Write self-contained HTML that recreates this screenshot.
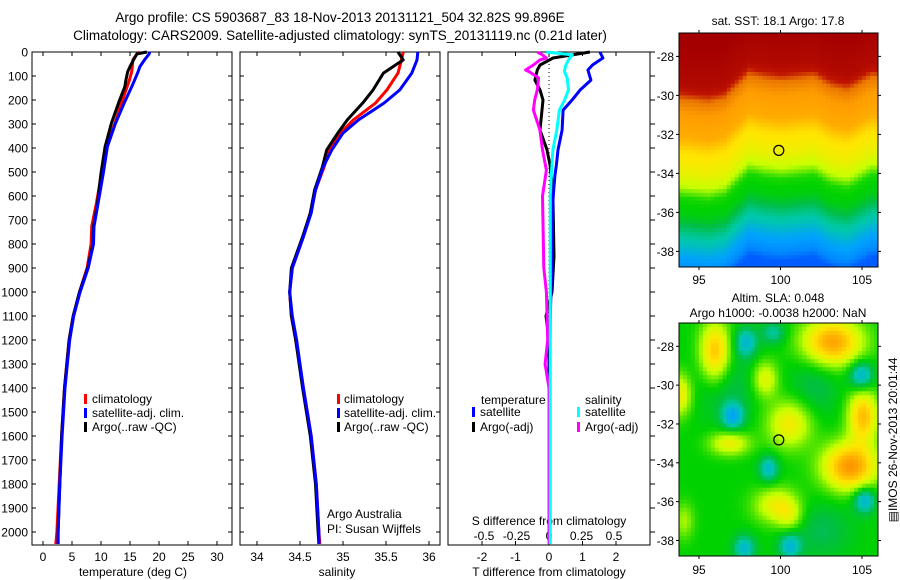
<!DOCTYPE html>
<html><head><meta charset="utf-8"><style>
body{margin:0;background:#fff}
svg{display:block;font-family:"Liberation Sans",sans-serif}
</style></head><body>
<svg id="c" width="900" height="580" viewBox="0 0 900 580"></svg>
<script>
// ---------- data ----------
const tDepth=[0,8,33,61,82,117,145,207,297,394,505,630,727,800,900,1000,1100,1200,1400,1600,1800,2000,2050];
const tArgo=[17.9,16.2,15.6,15.0,14.6,14.3,14.1,13.1,11.8,10.7,10.0,9.4,8.7,8.6,7.7,6.3,5.2,4.5,3.7,3.2,2.9,2.6,2.6];
const tClim=[16.7,16.2,15.5,15.4,15.3,14.9,14.5,13.6,12.4,11.0,10.1,9.2,8.4,8.3,7.6,6.3,5.2,4.5,3.7,3.2,2.8,2.4,2.2];
const tSat=[18.4,18.3,17.5,16.7,16.4,15.8,15.3,14.1,12.5,11.1,10.4,9.5,8.8,8.7,7.8,6.4,5.3,4.6,3.8,3.3,2.9,2.6,2.6];
const sDepth=[0,33,88,158,212,283,338,408,479,575,671,770,900,1000,1100,1200,1400,1600,1800,2000,2050];
const sArgo=[35.64,35.7,35.47,35.35,35.23,35.05,34.94,34.81,34.76,34.67,34.62,34.53,34.4,34.38,34.4,34.45,34.53,34.62,34.68,34.71,34.72];
const sClim=[35.7,35.68,35.64,35.51,35.38,35.12,34.97,34.84,34.78,34.68,34.62,34.54,34.41,34.38,34.4,34.45,34.54,34.63,34.69,34.72,34.73];
const sSat=[35.87,35.86,35.8,35.66,35.48,35.18,35.0,34.87,34.77,34.68,34.63,34.54,34.41,34.38,34.41,34.46,34.54,34.63,34.69,34.72,34.72];
const dtDepth=[0,25,54,75,117,158,200,242,325,408,470,512,575,617,850,1000,1100,1200,1500,2000,2050];
const dtSat=[1.52,1.61,1.3,1.16,1.25,0.93,0.69,0.42,0.39,0.27,0.22,0.18,0.14,0.12,0.09,0.06,0.04,0.03,0.02,0.02,0.02];
const dtArgo=[1.22,0.12,-0.27,-0.35,-0.42,-0.27,-0.18,-0.21,-0.27,-0.06,0.03,0.06,0.12,0.12,0.15,0.09,-0.09,0.0,0.0,0.0,0.0];
const dsDepth=[0,12,25,33,54,75,83,108,158,200,242,325,408,492,600,900,1000,1200,1300,1400,2000,2050];
const dsArgo=[-0.09,-0.05,-0.02,-0.07,-0.12,-0.18,-0.15,-0.08,-0.09,-0.11,-0.12,-0.07,-0.05,-0.02,-0.05,-0.04,-0.02,-0.01,-0.03,0,0,0];
const dsSat=[-0.02,0.18,0.16,0.15,0.13,0.12,0.12,0.14,0.15,0.12,0.08,0.06,0.03,0.02,0.01,0.01,0.01,0.01,0.01,0.01,0.01,0.01];
const depthTicks=[0,100,200,300,400,500,600,700,800,900,1000,1100,1200,1300,1400,1500,1600,1700,1800,1900,2000];
const tempTicks=[0,5,10,15,20,25,30];
const salTicks=[34,34.5,35,35.5,36];
const salTickLabels=["34","34.5","35","35.5","36"];
const dtTicks=[-2,-1,0,1,2];
const dsTicks=[-0.5,-0.25,0,0.25,0.5];
const dsTickLabels=["-0.5","-0.25","0","0.25","0.5"];
// SST map: temperature along latitude, with front shift by longitude
const sstLat=[-26.8,-28.8,-29.6,-30.3,-31.5,-32.3,-33.3,-34,-34.6,-35.5,-36.3,-36.9,-37.6,-38.4,-38.8];
const sstVal=[22.2,21.8,21.0,20.5,20.3,19.7,19.4,19.0,18.3,18.1,17.6,17.3,16.7,16.3,15.8];
const sstShiftLon=[94,95,96,97,97.6,98.5,99.5,100.5,101.5,102.5,103.5,104.5,105,106];
const sstShift=[0.6,0.7,0.8,0.6,0.1,-0.6,-0.4,-0.3,-0.4,-0.5,0,0.2,0,-0.5];
// SLA blobs
const slaLon=[96.4,94.2,103.6,99.5,101.0,97.3,105.5,104.7,100.2,101,94.5,97.5,98.3,105.4,99.7,105.6,98.2,101,100,97,102.5,103];
const slaLat=[-28.3,-30.5,-27.8,-29.7,-32.0,-33.0,-31.6,-34.2,-36.2,-36.8,-37,-31.6,-27.8,-29.5,-34.3,-35.9,-38.4,-38.3,-27.3,-30,-30,-37.5];
const slaAmp=[0.17,0.12,0.2,0.1,0.12,0.11,0.17,0.21,0.11,0.06,0.06,-0.12,-0.1,-0.12,-0.1,-0.12,-0.1,-0.1,-0.07,-0.04,-0.04,-0.04];
const slaSx=[0.6,0.5,1.2,0.5,0.9,0.8,0.6,1.1,0.9,0.5,0.4,0.45,0.45,0.5,0.4,0.45,0.45,0.45,0.5,1.2,1.0,1.2];
const slaSy=[1.0,0.7,0.8,0.6,0.8,0.4,0.9,0.8,0.6,0.5,0.6,0.45,0.5,0.5,0.45,0.45,0.45,0.45,0.4,1.2,1.2,1.0];

// ---------- helpers ----------
const NS="http://www.w3.org/2000/svg";
const svg=document.getElementById('c');
function mk(tag,attrs,parent){const e=document.createElementNS(NS,tag);for(const k in attrs)e.setAttribute(k,attrs[k]);(parent||svg).appendChild(e);return e;}
function txt(x,y,s,anchor,size,parent){const e=mk('text',{x:x,y:y,'text-anchor':anchor||'start','font-size':size||12,fill:'#000'},parent);e.textContent=s;return e;}
const Y0=52,DY=0.24;
const yD=d=>Y0+d*DY;
const xT=v=>43+v*5.8;
const xS=v=>257+(v-34)*86;
const xDT=v=>549+v*33.5;
const xDS=v=>549+v*130;
function line(xs,ys,fx,color,w,name){
  let p='';for(let i=0;i<xs.length;i++)p+=(i?'L':'M')+fx(xs[i]).toFixed(1)+','+yD(ys[i]).toFixed(1);
  const e=mk('path',{d:p,fill:'none',stroke:color,'stroke-width':w||3,'stroke-linejoin':'round'});
  
  
}
function frame(x1,x2,y1,y2,name){
  const e=mk('rect',{x:x1,y:y1,width:x2-x1,height:y2-y1,fill:'none',stroke:'#000','stroke-width':1});
  
  
}
const PB=545;
let t=txt(340,22,"Argo profile: CS 5903687_83 18-Nov-2013 20131121_504 32.82S 99.896E",'middle',13.5);

t=txt(340,40,"Climatology: CARS2009. Satellite-adjusted climatology: synTS_20131119.nc (0.21d later)",'middle',13.5);


// ---------- panel 1 ----------
frame(32,232,Y0,PB,'temperature-panel-frame');
depthTicks.forEach(d=>{mk('line',{x1:32,x2:36,y1:yD(d),y2:yD(d),stroke:'#000'});mk('line',{x1:228,x2:232,y1:yD(d),y2:yD(d),stroke:'#000'});
  const l=txt(28,yD(d)+4.5,String(d),'end',12);});
tempTicks.forEach(v=>{mk('line',{x1:xT(v),x2:xT(v),y1:Y0,y2:Y0+4,stroke:'#000'});mk('line',{x1:xT(v),x2:xT(v),y1:PB-4,y2:PB,stroke:'#000'});
  const l=txt(xT(v),561,String(v),'middle',12);});
t=txt(133,576,"temperature (deg C)",'middle',12);
line(tClim,tDepth,xT,'#f00',3,'temp-climatology-line');
line(tArgo,tDepth,xT,'#000',3,'temp-argo-line');
line(tSat,tDepth,xT,'#00f',3,'temp-satellite-line');
[['#f00','climatology'],['#00f','satellite-adj. clim.'],['#000','Argo(..raw -QC)']].forEach((r,i)=>{
  mk('rect',{x:84,y:394+i*14,width:3,height:10,fill:r[0]});
  const l=txt(92,403+i*14,r[1],'start',12);});

// ---------- panel 2 ----------
frame(240,440,Y0,PB,'salinity-panel-frame');
depthTicks.forEach(d=>{mk('line',{x1:240,x2:244,y1:yD(d),y2:yD(d),stroke:'#000'});mk('line',{x1:436,x2:440,y1:yD(d),y2:yD(d),stroke:'#000'});});
salTicks.forEach((v,i)=>{mk('line',{x1:xS(v),x2:xS(v),y1:Y0,y2:Y0+4,stroke:'#000'});mk('line',{x1:xS(v),x2:xS(v),y1:PB-4,y2:PB,stroke:'#000'});
  const l=txt(xS(v),561,salTickLabels[i],'middle',12);});
t=txt(337,576,"salinity",'middle',12);
line(sClim,sDepth,xS,'#f00',3,'sal-climatology-line');
line(sArgo,sDepth,xS,'#000',3,'sal-argo-line');
line(sSat,sDepth,xS,'#00f',3,'sal-satellite-line');
[['#f00','climatology'],['#00f','satellite-adj. clim.'],['#000','Argo(..raw -QC)']].forEach((r,i)=>{
  mk('rect',{x:337,y:394+i*14,width:3,height:10,fill:r[0]});
  const l=txt(344,403+i*14,r[1],'start',12);});
t=txt(327,518,"Argo Australia",'start',12);
t=txt(327,533,"PI: Susan Wijffels",'start',12);

// ---------- panel 3 ----------
frame(448,650,Y0,PB,'difference-panel-frame');
depthTicks.forEach(d=>{mk('line',{x1:650,x2:655,y1:yD(d),y2:yD(d),stroke:'#000'});});
dtTicks.forEach(v=>{mk('line',{x1:xDT(v),x2:xDT(v),y1:Y0,y2:Y0+4,stroke:'#000'});mk('line',{x1:xDT(v),x2:xDT(v),y1:PB-4,y2:PB,stroke:'#000'});
  const l=txt(xDT(v),561,String(v),'middle',12);});
dsTicks.forEach((v,i)=>{const l=txt(xDS(v),540,dsTickLabels[i],'middle',12);});
t=txt(549,525,"S difference from climatology",'middle',12);
t=txt(549,576,"T difference from climatology",'middle',12);
mk('line',{x1:xDT(0),x2:xDT(0),y1:Y0,y2:PB,stroke:'#000','stroke-dasharray':'1,3'});
line(dtArgo,dtDepth,xDT,'#000',3,'tdiff-argo-line');
line(dtSat,dtDepth,xDT,'#00f',3,'tdiff-satellite-line');
line(dsArgo,dsDepth,xDS,'#f0f',3,'sdiff-argo-line');
line(dsSat,dsDepth,xDS,'#0ff',3,'sdiff-satellite-line');
t=txt(481,404,"temperature",'start',12);
t=txt(585,404,"salinity",'start',12);
[['#00f','satellite',472],['#000','Argo(-adj)',472],['#0ff','satellite',577],['#f0f','Argo(-adj)',577]].forEach((r,i)=>{
  const row=i%2;
  mk('rect',{x:r[2],y:407+row*15,width:3,height:10,fill:r[0]});
  const l=txt(r[2]+8,416+row*15,r[1],'start',12);});

// ---------- maps ----------
function cmap(v){
  const st=[[0,0,0,150],[0.15,0,60,255],[0.3,0,160,255],[0.4,0,200,170],[0.45,0,190,70],[0.5,0,210,0],[0.6,200,255,0],[0.68,255,230,0],[0.78,255,160,0],[0.85,235,120,0],[0.9,190,20,0],[1,165,0,0]];
  v=Math.max(0,Math.min(1,v));
  for(let i=1;i<st.length;i++){if(v<=st[i][0]){const a=st[i-1],b=st[i],f=(v-a[0])/(b[0]-a[0]);
    return 'rgb('+[1,2,3].map(k=>Math.round(a[k]+f*(b[k]-a[k]))).join(',')+')';}}
  return 'rgb(165,0,0)';
}
function interp(xs,ys,x){ // xs descending
  if(x>=xs[0])return ys[0];
  for(let i=1;i<xs.length;i++){if(x>=xs[i]){const f=(x-xs[i-1])/(xs[i]-xs[i-1]);return ys[i-1]+f*(ys[i]-ys[i-1]);}}
  return ys[ys.length-1];
}
function interpAsc(xs,ys,x){
  if(x<=xs[0])return ys[0];
  for(let i=1;i<xs.length;i++){if(x<=xs[i]){const f=(x-xs[i-1])/(xs[i]-xs[i-1]);return ys[i-1]+f*(ys[i]-ys[i-1]);}}
  return ys[ys.length-1];
}
function mapAxes(y1,y2,latTop,latBot,name){
  const xL=v=>699+(v-95)*16.3;
  const g=mk('g',{});
  
  
  return {g,xL,yL:v=>y1+(latTop-v)*(y2-y1)/(latTop-latBot)};
}
function decorate(m,y1,y2,lonLabelY,prefix){
  frame(679,878,y1,y2,prefix+'-map-frame');
  [95,100,105].forEach(v=>{mk('line',{x1:m.xL(v),x2:m.xL(v),y1:y1,y2:y1-3,stroke:'#000'});mk('line',{x1:m.xL(v),x2:m.xL(v),y1:y2,y2:y2+3,stroke:'#000'});
    const l=txt(m.xL(v),lonLabelY,String(v),'middle',12);});
  [-28,-30,-32,-34,-36,-38].forEach(v=>{mk('line',{x1:679,x2:676,y1:m.yL(v),y2:m.yL(v),stroke:'#000'});mk('line',{x1:878,x2:881,y1:m.yL(v),y2:m.yL(v),stroke:'#000'});
    const l=txt(674,m.yL(v)+4.5,String(v),'end',12);});
  const c=mk('circle',{cx:m.xL(99.896),cy:m.yL(-32.82),r:5,fill:'none',stroke:'#000','stroke-width':1.2});
  
}
// SST map
(function(){
  const y1=33,y2=267,latTop=-26.8,latBot=-38.8;
  const m=mapAxes(y1,y2,latTop,latBot,'sst-map');
  const ny=60,nx=50;
  const cw=(878-679)/nx,ch=(y2-y1)/ny;
  for(let j=0;j<ny;j++)for(let i=0;i<nx;i++){
    const lat=latTop-(j+0.5)*(latTop-latBot)/ny;
    const lon=94.2+(i+0.5)*cw/16.3;
    const v=interp(sstLat,sstVal,lat+interpAsc(sstShiftLon,sstShift,lon));
    mk('rect',{x:(679+i*cw).toFixed(2),y:(y1+j*ch).toFixed(2),width:(cw+0.4).toFixed(2),height:(ch+0.4).toFixed(2),fill:cmap((v-14.2)/8)},m.g);
  }
  decorate(m,y1,y2,284,'sst');
  t=txt(778,25,"sat. SST: 18.1 Argo: 17.8",'middle',12);
})();
// SLA map
(function(){
  const y1=323,y2=556,latTop=-26.8,latBot=-38.8;
  const m=mapAxes(y1,y2,latTop,latBot,'sla-map');
  const ny=58,nx=50;
  const cw=(878-679)/nx,ch=(y2-y1)/ny;
  const SPREAD=1.5;
  for(let j=0;j<ny;j++)for(let i=0;i<nx;i++){
    const lat=latTop-(j+0.5)*(latTop-latBot)/ny;
    const lon=94.2+(i+0.5)*cw/16.3;
    let v=0;
    for(let k=0;k<slaLon.length;k++){const dx=(lon-slaLon[k])/(slaSx[k]*SPREAD),dy=(lat-slaLat[k])/(slaSy[k]*SPREAD);v+=slaAmp[k]*Math.exp(-(dx*dx+dy*dy));}
    mk('rect',{x:(679+i*cw).toFixed(2),y:(y1+j*ch).toFixed(2),width:(cw+0.4).toFixed(2),height:(ch+0.4).toFixed(2),fill:cmap(0.5+v*1.4)},m.g);
  }
  decorate(m,y1,y2,574,'sla');
  t=txt(778,302,"Altim. SLA: 0.048",'middle',12);
  t=txt(778,317,"Argo h1000: -0.0038 h2000: NaN",'middle',12);
})();
t=txt(0,0,"\u25A4IMOS 26-Nov-2013 20:01:44",'middle',12);
t.setAttribute('transform','translate(897,440) rotate(-90)');

</script>
</body></html>
